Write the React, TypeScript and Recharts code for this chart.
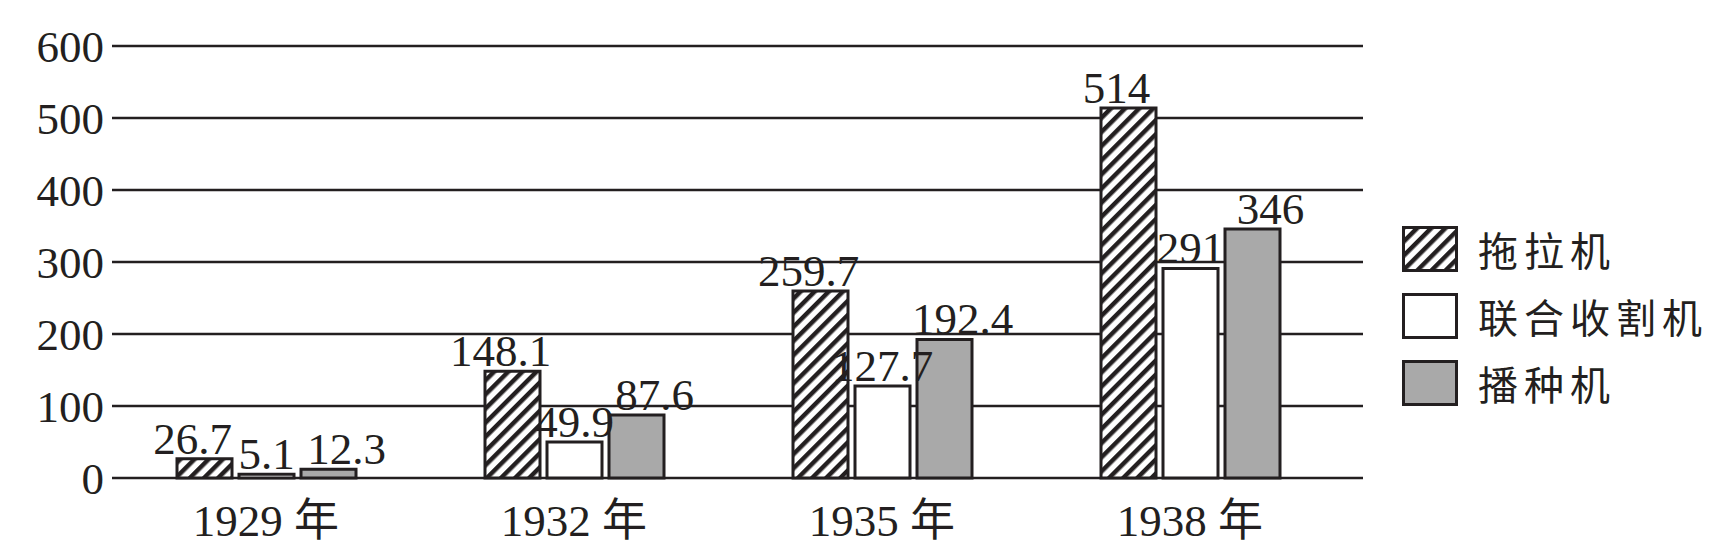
import React from 'react';
import {
  BarChart,
  Bar,
  XAxis,
  YAxis,
  CartesianGrid,
  Legend,
  LabelList,
} from 'recharts';

const years = ['1929 年', '1932 年', '1935 年', '1938 年'];
const tractors = [26.7, 148.1, 259.7, 514];
const harvesters = [5.1, 49.9, 127.7, 291];
const seeders = [12.3, 87.6, 192.4, 346];
const yTicks = [0, 100, 200, 300, 400, 500, 600];

const INK = '#231f20';
const GRAY = '#a9a9a9';
const SERIF = '"Liberation Serif", "Times New Roman", "Noto Sans CJK SC", serif';

// labelShift nudges value labels sideways so neighbours don't collide
const seriesInfo = [
  { key: 'tractor', name: '拖拉机', fill: 'url(#hatch)', labelShift: -12 },
  { key: 'harvester', name: '联合收割机', fill: '#ffffff', labelShift: 0 },
  { key: 'seeder', name: '播种机', fill: GRAY, labelShift: 18 },
];

const chartData = years.map((year, i) => ({
  year,
  tractor: tractors[i],
  harvester: harvesters[i],
  seeder: seeders[i],
}));

const Swatch: React.FC<{ kind: string }> = ({ kind }) => (
  <svg width={56} height={46} style={{ display: 'block' }}>
    <defs>
      <pattern
        id="hatch-legend"
        patternUnits="userSpaceOnUse"
        width={10}
        height={10}
        patternTransform="rotate(45)"
      >
        <rect width={10} height={10} fill="#fff" />
        <line x1={0} y1={0} x2={0} y2={10} stroke={INK} strokeWidth={9} />
      </pattern>
    </defs>
    <rect
      x={1.5}
      y={1.5}
      width={53}
      height={43}
      fill={kind === 'tractor' ? 'url(#hatch-legend)' : kind === 'seeder' ? GRAY : '#fff'}
      stroke={INK}
      strokeWidth={3}
    />
  </svg>
);

const renderLegend = () => (
  <div style={{ display: 'flex', flexDirection: 'column', gap: 21 }}>
    {seriesInfo.map((s) => (
      <div key={s.key} style={{ display: 'flex', alignItems: 'center' }}>
        <Swatch kind={s.key} />
        <span
          style={{
            marginLeft: 20,
            fontFamily: '"Noto Sans CJK SC", sans-serif',
            fontSize: 40,
            letterSpacing: 6,
            color: INK,
            lineHeight: '46px',
          }}
        >
          {s.name}
        </span>
      </div>
    ))}
  </div>
);

const makeLabel = (shift: number) => (props: any) => {
  const { x, y, width, value } = props;
  return (
    <text
      x={Number(x) + Number(width) / 2 + shift}
      y={Number(y) - 5}
      textAnchor="middle"
      fill={INK}
      fontSize={45}
      fontFamily={SERIF}
    >
      {value}
    </text>
  );
};

const App: React.FC = () => {
  return (
    <div style={{ position: 'absolute', left: 0, top: 0, width: 1719, height: 559, background: '#fff' }}>
      <BarChart
        width={1719}
        height={559}
        data={chartData}
        margin={{ top: 46, right: 356, left: 0, bottom: 31 }}
        barSize={55}
        barGap={7}
      >
        <defs>
          <pattern
            id="hatch"
            patternUnits="userSpaceOnUse"
            width={10}
            height={10}
            patternTransform="rotate(45)"
          >
            <rect width={10} height={10} fill="#fff" />
            <line x1={0} y1={0} x2={0} y2={10} stroke={INK} strokeWidth={9} />
          </pattern>
        </defs>
        <CartesianGrid vertical={false} stroke={INK} strokeWidth={2.5} />
        <XAxis
          dataKey="year"
          height={50}
          axisLine={false}
          tickLine={false}
          tickMargin={20}
          padding={{ left: 0, right: 19 }}
          tick={{ fill: INK, fontSize: 45, fontFamily: SERIF }}
        />
        <YAxis
          width={112}
          domain={[0, 600]}
          ticks={yTicks}
          axisLine={false}
          tickLine={false}
          interval={0}
          tick={{ fill: INK, fontSize: 45, fontFamily: SERIF }}
        />
        <Legend
          layout="vertical"
          align="center"
          verticalAlign="middle"
          content={renderLegend}
          wrapperStyle={{ left: 1402, top: 226, width: 'auto' }}
        />
        {seriesInfo.map((s) => (
          <Bar
            key={s.key}
            dataKey={s.key}
            name={s.name}
            fill={s.fill}
            stroke={INK}
            strokeWidth={3}
            isAnimationActive={false}
          >
            <LabelList dataKey={s.key} content={makeLabel(s.labelShift)} />
          </Bar>
        ))}
      </BarChart>
    </div>
  );
};

export default App;
